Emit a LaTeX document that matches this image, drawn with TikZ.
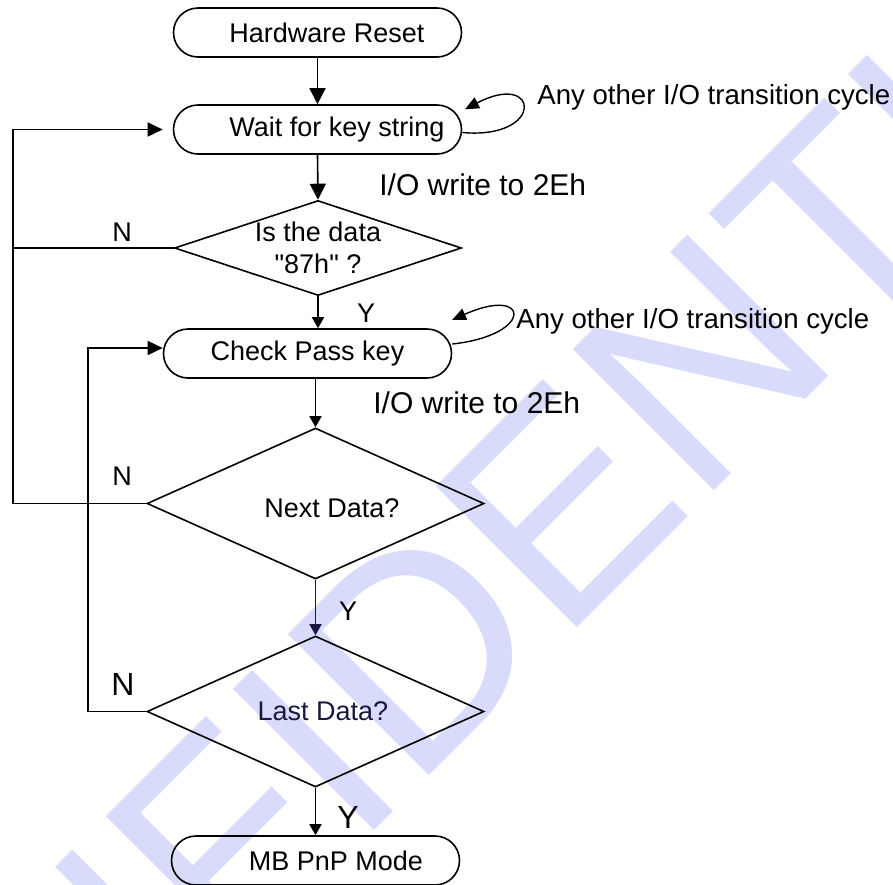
\documentclass[tikz,border=0pt]{standalone}
\usepackage{fontspec}
\setmainfont{Liberation Sans}
\newfontfamily\chartfont{Liberation Sans}
\usetikzlibrary{shapes.geometric,arrows.meta}
\definecolor{wmark}{RGB}{216,220,250}
\definecolor{inkblue}{RGB}{24,24,64}

\begin{document}
\begin{tikzpicture}[x=0.5pt, y=-0.5pt,
  term node/.style={draw, line width=0.8pt, rounded corners=12.25pt, minimum width=144pt, minimum height=24.5pt, inner sep=0pt, font=\fontsize{13.5}{16}\selectfont},
  test node/.style={draw, diamond, line width=0.8pt, inner sep=0pt, align=center, font=\chartfont\fontsize{13.5}{16}\selectfont},
  note/.style={inner sep=0pt, font=\fontsize{13.5}{16}\selectfont},
  big note/.style={inner sep=0pt, font=\fontsize{15}{18}\selectfont},
  flow/.style={line width=0.8pt},
  big tip/.style={flow, -{Triangle[length=8pt,width=8pt]}},
  small tip/.style={flow, -{Triangle[length=5.5pt,width=6pt]}},
  side tip/.style={flow, -{Triangle[length=7.5pt,width=7pt]}},
  loop tip/.style={line width=0.7pt, -{Triangle[length=7pt,width=6pt]}}]

\useasboundingbox (0,0) rectangle (893,884);

\begin{scope}
\clip (0,0) rectangle (893,884);
\node[rotate=45, anchor=base west, inner sep=0pt, text=wmark, font=\fontsize{145}{150}\selectfont] (stamp) at (-225.5,1430.5) {CONFIDENTIAL};
\end{scope}

\node[term node] (reset) at (317.5,32.5) {\hspace*{9.5pt}Hardware Reset};
\node[term node] (wait)  at (317.5,129.5) {\hspace*{19.5pt}Wait for key string};
\node[test node, aspect=3, minimum width=143.5pt, minimum height=47.5pt] (isdata) at (318,248) {Is the data\\"87h" ?};
\node[term node] (check) at (307.5,353.5) {Check Pass key};
\node[test node, aspect=2.23, minimum width=168.5pt, minimum height=75.5pt] (nextdata) at (315.5,503.5) {\hspace*{16.5pt}\raisebox{-2.5pt}[\height][\depth]{Next Data?}};
\node[test node, aspect=2.23, minimum width=168.5pt, minimum height=75.5pt, text=inkblue] (lastdata) at (315.5,711.5) {\hspace*{7.5pt}Last Data?};
\node[term node] (pnp)   at (315.5,860.5) {\hspace*{20.5pt}MB PnP Mode};

\draw[big tip] (reset.south) -- (wait.north);
\draw[big tip] (wait.south) -- (isdata.north);
\draw[small tip] (isdata.south) -- (isdata.south |- check.north);
\draw[small tip] (nextdata.north |- check.south) -- (nextdata.north);
\draw[small tip, inkblue] (nextdata.south) -- (lastdata.north);
\draw[small tip] (lastdata.south) -- (pnp.north);

\coordinate (outer) at (13,129.5);
\coordinate (inner) at (88,348);
\draw[side tip, shorten >=5pt] (nextdata.west) -| (outer) -- (wait.west);
\draw[flow] (isdata.west) -- (isdata.west -| outer);
\draw[side tip] (lastdata.west) -| (inner) -- (inner -| check.west);

\coordinate (loopA) at (465,109.3);
\coordinate (loopB) at (452,320);
\draw[loop tip] ([yshift=-1.5pt]wait.east) .. controls (545,140) and (540,70) .. (loopA);
\draw[loop tip] ([yshift=4.75pt]check.east) .. controls (535,335) and (530,285) .. (loopB);

\node[big note, anchor=base west] (ioA) at (379,195) {I/O write to 2Eh};
\node[big note, anchor=base west] (ioB) at (373,413) {I/O write to 2Eh};
\node[note, font=\fontsize{13.8}{16}\selectfont, anchor=base west] (anyA) at (537,104) {Any other I/O transition cycle};
\node[note, font=\fontsize{13.8}{16}\selectfont, anchor=base west] (anyB) at (516,328) {Any other I/O transition cycle};

\node[note, anchor=base] (nA) at (122,241) {N};
\node[note, anchor=base] (nB) at (122,485) {N};
\node[note, font=\fontsize{16}{18}\selectfont, anchor=base] (nC) at (123,695) {N};
\node[note, anchor=base] (yA) at (366,322) {Y};
\node[note, anchor=base] (yB) at (348,620) {Y};
\node[note, font=\fontsize{16}{18}\selectfont, anchor=base] (yC) at (348,828) {Y};
\end{tikzpicture}
\end{document}
